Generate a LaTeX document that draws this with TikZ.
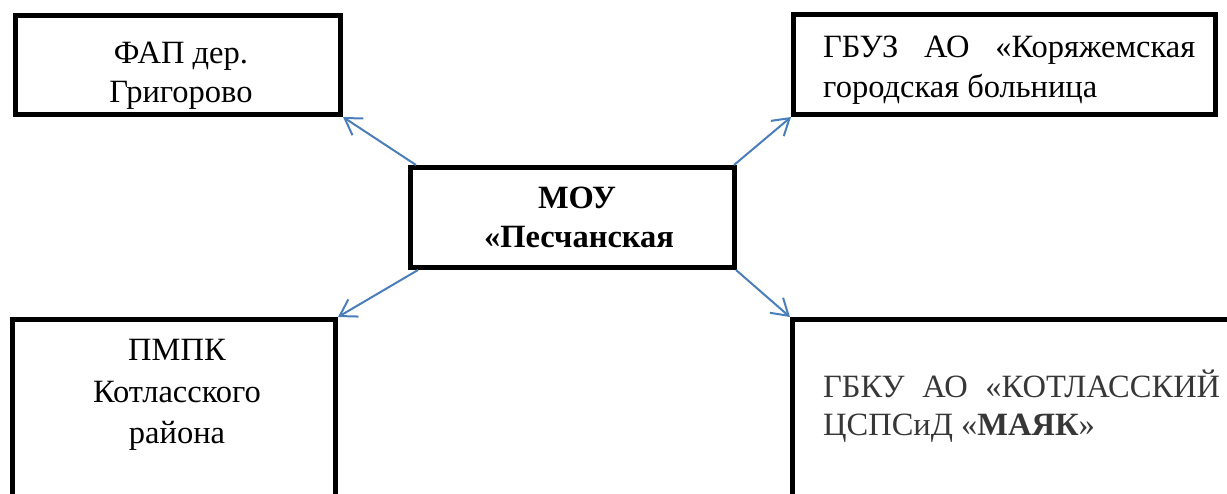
\documentclass[tikz,border=0pt]{standalone}
\usepackage{fontspec}
\setmainfont{Liberation Serif}
\usetikzlibrary{arrows.meta}
\definecolor{arrowblue}{RGB}{74,126,187}
\definecolor{textgray}{RGB}{55,55,55}
\begin{document}
\begin{tikzpicture}[x=1pt,y=-1pt,
  box/.style={draw=black, line width=5pt, inner sep=0pt},
  lbl/.style={font=\fontsize{32.5}{40}\selectfont, inner sep=0pt, anchor=base},
  lbll/.style={lbl, anchor=base west},
  link/.style={draw=arrowblue, line width=2pt, -{Straight Barb[length=16pt,width=20pt]}}]
\useasboundingbox (0,0) rectangle (1227,493);
\clip (0,0) rectangle (1227,493);
\fill[white] (0,0) rectangle (1227,493);
% boxes
\node[box, minimum width=325pt, minimum height=99pt] (fap) at (178,65) {};
\node[box, minimum width=422pt, minimum height=100pt] (gbuz) at (1004.5,64.5) {};
\node[box, minimum width=324pt, minimum height=100pt] (mou) at (572.5,217.5) {};
\node[box, minimum width=323pt, minimum height=240pt] (pmpk) at (174,439.5) {};
\node[box, minimum width=470pt, minimum height=240pt] (gbku) at (1027.5,439.5) {};
% texts
\node[lbl] (fap1) at (181,63) {ФАП дер.};
\node[lbl] (fap2) at (181,102) {Григорово};
\node[lbll] (gbuz1) at (823,57) {\makebox[372pt][l]{ГБУЗ\hfill АО\hfill «Коряжемская}};
\node[lbll] (gbuz2) at (823,97) {городская больница};
\node[lbl, font=\fontsize{32.5}{40}\selectfont\bfseries] (mou1) at (577,208) {МОУ};
\node[lbl, font=\fontsize{32.5}{40}\selectfont\bfseries] (mou2) at (579,247) {«Песчанская};
\node[lbl] (pmpk1) at (177,360) {ПМПК};
\node[lbl] (pmpk2) at (177,402) {Котласского};
\node[lbl] (pmpk3) at (177,443) {района};
\node[lbll, text=textgray] (gbku1) at (823,397) {\makebox[397pt][l]{ГБКУ\hfill АО\hfill «КОТЛАССКИЙ}};
\node[lbll, text=textgray] (gbku2) at (823,435) {ЦСПСиД «\textbf{МАЯК}»};
% connectors
\draw[link] ([xshift=8pt]mou.north west) -- (fap.south east);
\draw[link] ([xshift=-3pt]mou.north east) -- (gbuz.south west);
\draw[link] ([xshift=10pt]mou.south west) -- (pmpk.north east);
\draw[link] ([xshift=-1pt]mou.south east) -- (gbku.north west);
\end{tikzpicture}
\end{document}
